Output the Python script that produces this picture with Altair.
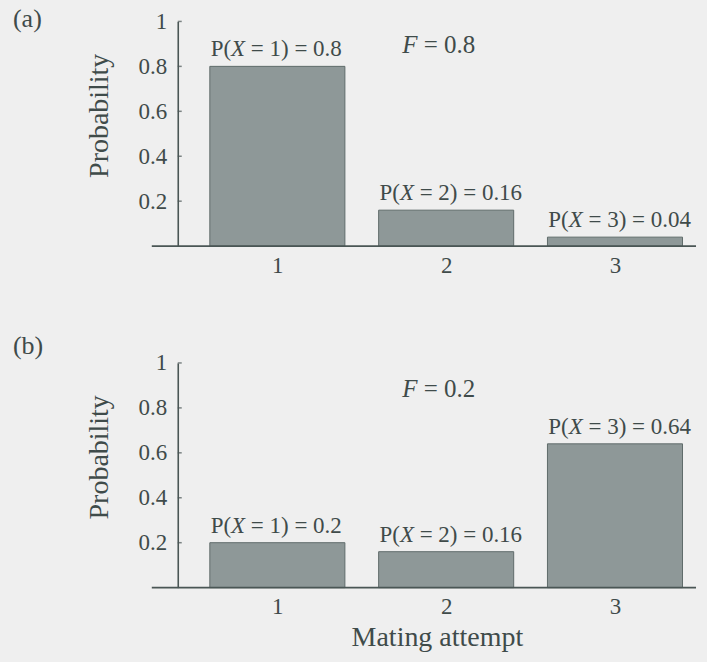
import altair as alt
import pandas as pd

# ---- data ----
attempts = [1, 2, 3]
prob_a = [0.8, 0.16, 0.04]
prob_b = [0.2, 0.16, 0.64]
f_values = ["0.8", "0.2"]
panel_tags = ["(a)", "(b)"]
y_ticks = [0.2, 0.4, 0.6, 0.8, 1.0]
f_anchor_x = 1.74
f_anchor_y = [0.86, 0.85]

# ---- style ----
W, H = 519, 225
FONT = "Liberation Serif"
INK = "#3f4b4a"
AXIS = "#4a5655"
BAR = "#8e9898"
BAR_EDGE = "#5f6b6a"
BG = "#efefef"
ANN = 23
FS = 25
NB = "\u00a0"
X_HALF = 0.611 * ANN / 2      # half width of italic X
SPACE = 0.25 * ANN
SHIFT = -39.3                 # centre the composed label over its bar

xscale = alt.Scale(domain=[0.41, 3.48], nice=False, zero=False, padding=0)
yscale = alt.Scale(domain=[0, 1], nice=False, padding=0)


def panel(probs, tag, fval, fy, show_xtitle, tag_y):
    df = pd.DataFrame({"attempt": attempts, "prob": probs})
    df["pre"] = "P("
    df["var"] = "X"
    df["post"] = [f"={NB}{a}){NB}={NB}{p}" for a, p in zip(attempts, probs)]
    base = alt.Chart(df)

    xt = "Mating attempt" if show_xtitle else None
    yt = "Probability"

    xaxis = alt.Axis(values=attempts, format="d", domain=False, ticks=False, tickSize=0,
                     labelPadding=8, labelFontSize=23, labelFont=FONT, labelColor=INK,
                     grid=False, titleFont=FONT, titleFontSize=28, titleColor=INK,
                     titleFontWeight="normal", titlePadding=5)
    yaxis = alt.Axis(values=y_ticks, format="~g", ticks=False, tickSize=0, labelPadding=11,
                     labelFontSize=23, labelFont=FONT, labelColor=INK, domainColor=AXIS,
                     domainWidth=1.6, grid=False, titleFont=FONT, titleFontSize=28,
                     titleColor=INK, titleFontWeight="normal", titleX=-70, titleY=94,
                     titleAngle=270, titleAlign="center", titleBaseline="alphabetic")

    bars = base.transform_calculate(
        lo="datum.attempt - 0.4", hi="datum.attempt + 0.4"
    ).mark_bar(color=BAR, stroke=BAR_EDGE, strokeWidth=1).encode(
        x=alt.X("lo:Q", scale=xscale, title=xt, axis=xaxis),
        x2="hi:Q",
        y=alt.Y("prob:Q", scale=yscale, title=yt, axis=yaxis),
        y2=alt.datum(0),
    )

    ax = alt.X("attempt:Q", scale=xscale, title=xt)
    ay = alt.Y("prob:Q", scale=yscale, title=yt)
    common = dict(font=FONT, fontSize=ANN, color=INK, baseline="alphabetic", dy=-10)
    pre = base.mark_text(align="right", dx=SHIFT - X_HALF, **common).encode(x=ax, y=ay, text="pre:N")
    var = base.mark_text(align="center", fontStyle="italic", dx=SHIFT, **common).encode(x=ax, y=ay, text="var:N")
    post = base.mark_text(align="left", dx=SHIFT + X_HALF + SPACE, **common).encode(x=ax, y=ay, text="post:N")

    fdf = pd.DataFrame({"x": [f_anchor_x], "y": [fy], "f": ["F"], "rest": [f"={NB}{fval}"]})
    fb = alt.Chart(fdf)
    fx = alt.X("x:Q", scale=xscale, title=xt)
    fyenc = alt.Y("y:Q", scale=yscale, title=yt)
    f1 = fb.mark_text(font=FONT, fontSize=FS, color=INK, align="left", baseline="alphabetic",
                      fontStyle="italic").encode(x=fx, y=fyenc, text="f:N")
    f2 = fb.mark_text(font=FONT, fontSize=FS, color=INK, align="left", baseline="alphabetic",
                      dx=0.611 * FS + 0.25 * FS).encode(x=fx, y=fyenc, text="rest:N")

    tdf = pd.DataFrame({"v": y_ticks})
    ticks = alt.Chart(tdf).mark_tick(orient="horizontal", size=4, thickness=1.5, color=AXIS).encode(
        y=alt.Y("v:Q", scale=yscale, title=yt), x=alt.value(2))

    rdf = pd.DataFrame({"z": [0]})
    base_line = alt.Chart(rdf).mark_rule(color=AXIS, strokeWidth=1.6).encode(
        y=alt.Y("z:Q", scale=yscale, title=yt), x=alt.value(-26), x2=alt.value(W))

    gdf = pd.DataFrame({"tag": [tag]})
    tag_mark = alt.Chart(gdf).mark_text(font=FONT, fontSize=26, color=INK, align="left",
                                        baseline="alphabetic").encode(
        x=alt.value(-165), y=alt.value(tag_y), text="tag:N")

    return alt.layer(bars, base_line, ticks, pre, var, post, f1, f2, tag_mark).properties(
        width=W, height=H)


top = panel(prob_a, panel_tags[0], f_values[0], f_anchor_y[0], False, 6)
bottom = panel(prob_b, panel_tags[1], f_values[1], f_anchor_y[1], True, -9)

chart = alt.vconcat(top, bottom, spacing=56).properties(
    background=BG,
    padding={"left": 13, "top": 6, "right": 10, "bottom": 10},
).configure_view(stroke=None)

chart.save("out.html", embed_options={"renderer": "svg", "actions": False})
